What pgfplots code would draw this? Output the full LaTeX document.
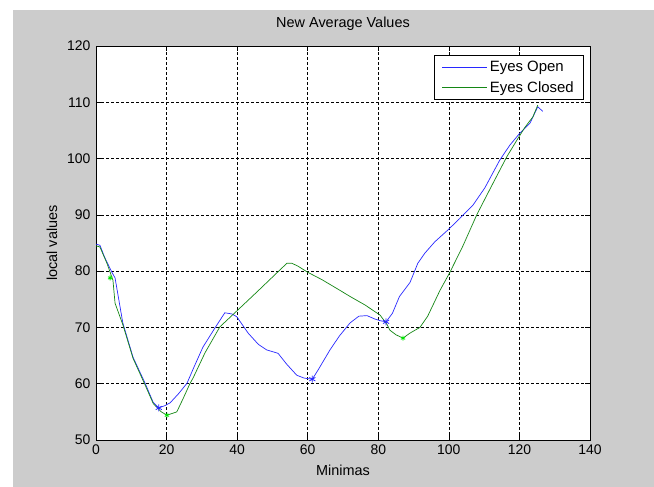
\documentclass[border=0pt]{standalone}
\usepackage{fontspec}
\setmainfont{Liberation Sans}
\usepackage{pgfplots}
\pgfplotsset{compat=1.18}
\definecolor{figgrey}{RGB}{204,204,204}
\definecolor{mblue}{RGB}{40,40,255}
\definecolor{mgreen}{RGB}{20,135,20}
\definecolor{bgreen}{RGB}{0,230,0}
\begin{document}
\begin{tikzpicture}[font=\fontsize{14.5}{17}\selectfont]
\fill[white] (0,0) rectangle (654bp,487bp);
\fill[figgrey] (13bp,0) rectangle (654bp,477bp);
\begin{axis}[
  at={(96bp,47bp)}, anchor=south west,
  scale only axis, width=494bp, height=394bp,
  xmin=0, xmax=140, ymin=50, ymax=120,
  xtick={0,20,...,140}, ytick={50,60,...,120},
  /pgf/number format/assume math mode=true,
  ticklabel style={font=\fontsize{14}{16}\selectfont},
  axis background/.style={fill=white},
  axis line style={black, line width=0.6pt},
  tick align=inside, tick pos=both, major tick length=5bp,
  tick style={black, line width=0.6pt},
  grid=major,
  major grid style={black, dash pattern=on 2.5bp off 2.5bp, line width=0.6pt},
  title={New Average Values},
  title style={at={(axis description cs:0.5,1.0406)}, anchor=center},
  xlabel={Minimas},
  xlabel style={at={(axis description cs:0.5,-0.0761)}, anchor=center},
  ylabel={local values},
  ylabel style={at={(axis description cs:-0.089,0.5)}, anchor=center},
  yticklabel style={xshift=-2bp},
  xticklabel style={yshift=-1bp},
  legend style={at={(0.988,0.977)}, anchor=north east, draw=black, line width=0.6pt,
    font=\fontsize{15}{17}\selectfont, row sep=4bp, inner xsep=8bp, inner ysep=4bp,
    nodes={inner sep=2bp}, legend cell align=left},
  legend image code/.code={\draw[#1, line width=0.8pt] (0bp,0bp) -- (45bp,0bp);},
]
\addplot[mblue, line width=0.7pt, no marks] coordinates {
(0,84.8) (1.1,84.6) (2.5,82.4) (4.5,79.8) (5.4,78.8) (7.6,70.8) (10.5,64.7) (13.9,60.1)
(16.2,56.7) (17.8,55.7) (19.5,56.1) (21,56.6) (23.5,58.3) (25.8,60.1) (27.8,63)
(30.3,66.5) (33.7,69.9) (36.5,72.6) (38.5,72.4) (39.9,71.9) (43.1,69) (46,67)
(48.4,66) (51.6,65.4) (54,63.5) (56.9,61.5) (59,61) (61.3,60.8) (63,62.5)
(66.3,66) (69,68.5) (72,70.8) (74.5,72) (76.8,72.1) (79,71.5) (80.5,71.2) (82.2,71)
(84,72.5) (86,75.5) (89,78) (91.2,81.4) (93.2,83.2) (96,85.2) (99.7,87.3)
(103,89.3) (106.8,91.7) (110.2,94.8) (114.4,99.7) (117.3,102.4) (120.1,104.5)
(123,106.3) (125.2,109.2) (126.6,108.4)
};
\addlegendentry{Eyes Open}
\addplot[mgreen, line width=0.7pt, no marks] coordinates {
(0,84.5) (1.1,84.3) (3.1,81.4) (4.8,78.4) (5.4,74.3) (7.6,70.5) (10.5,64.5)
(13.9,59.8) (16.2,56.5) (18.5,55) (20.1,54.4) (22.9,55) (24.8,57.5) (26.6,60)
(27.5,61) (30.9,65.5) (35.1,70.1) (40.2,73.1) (45.6,76.3) (50.1,79) (54.1,81.4)
(55.5,81.4) (57.2,80.9) (60,79.8) (64,78.5) (69.1,76.6) (72,75.5) (76.2,74)
(80.5,72.2) (82.5,70.5) (83.3,69.5) (85,68.7) (87,68.1) (89,69) (91.8,70) (94,72)
(97.5,76.6) (100.3,79.8) (104,84.5) (107.9,90) (112,95) (116.4,100.3)
(119.3,103.3) (121.5,105.5) (123.8,107.4) (125.2,109.5)
};
\addlegendentry{Eyes Closed}
\addplot[forget plot, only marks, mark=asterisk, mark size=3.5bp, mblue, mark options={line width=0.8pt}] coordinates {
(17.8,55.7) (61.3,60.8) (82.2,71)
};
\addplot[forget plot, only marks, mark=asterisk, mark size=2.5bp, bgreen, mark options={line width=0.8pt}] coordinates {
(4,78.8) (20.1,54.4) (87,68.1)
};
\end{axis}
\end{tikzpicture}
\end{document}
